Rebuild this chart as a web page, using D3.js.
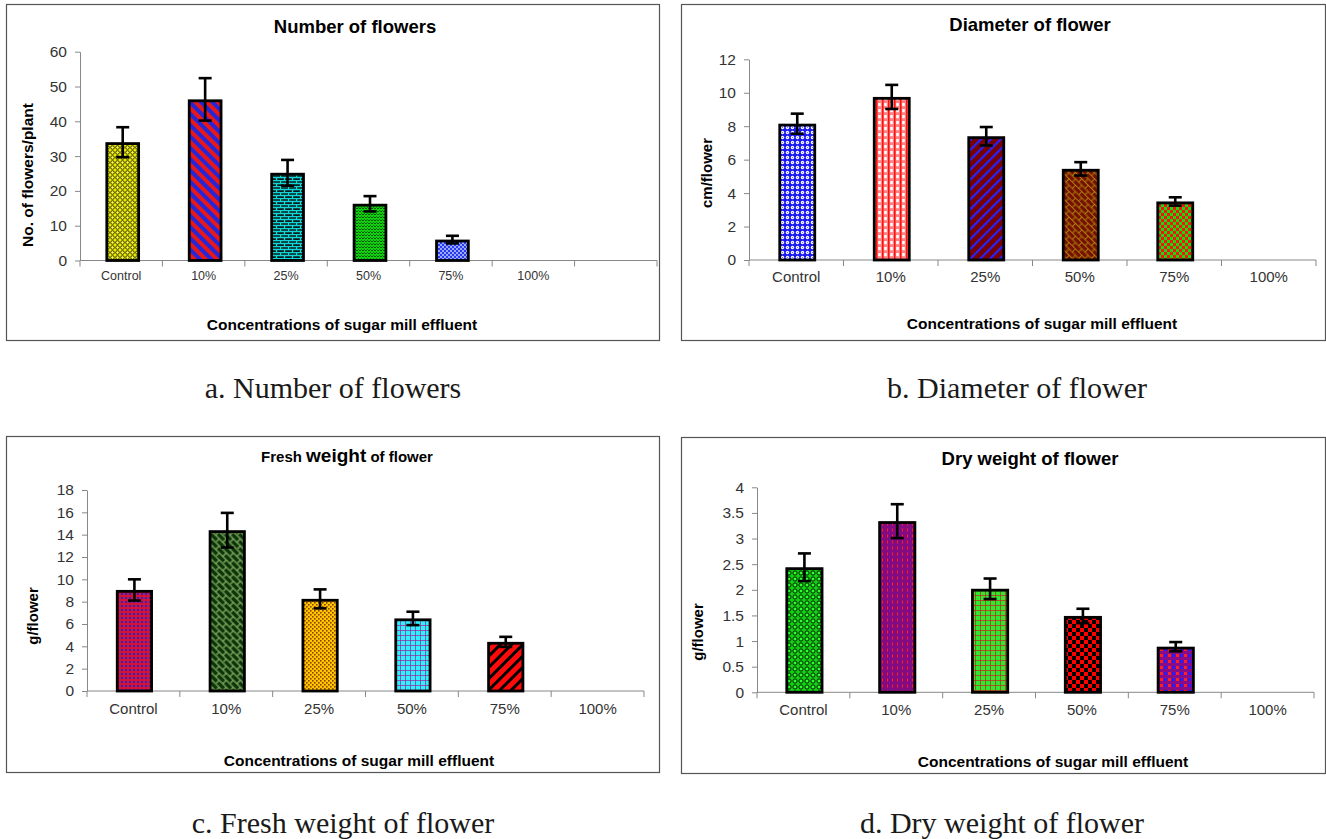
<!DOCTYPE html>
<html><head><meta charset="utf-8">
<script src="https://cdn.jsdelivr.net/npm/d3@7"></script>
<style>
html,body{margin:0;padding:0;background:#fff;}
svg{display:block;font-family:"Liberation Sans",Arial,sans-serif;}
</style></head><body>
<svg id="c" width="1326" height="839"></svg>
<script>
// ---------- data ----------
const categories = ["Control", "10%", "25%", "50%", "75%", "100%"];

const flowerCount    = [34.0, 46.3, 25.2, 16.3, 6.0, 0];
const flowerCountErr = [4.3, 6.1, 3.7, 2.2, 1.1, 0];
const flowerCountTicks = [0, 10, 20, 30, 40, 50, 60];

const diameter    = [8.15, 9.75, 7.4, 5.45, 3.5, 0];
const diameterErr = [0.6, 0.72, 0.55, 0.4, 0.25, 0];
const diameterTicks = [0, 2, 4, 6, 8, 10, 12];

const freshWeight    = [9.05, 14.4, 8.25, 6.5, 4.4, 0];
const freshWeightErr = [0.95, 1.55, 0.85, 0.6, 0.45, 0];
const freshWeightTicks = [0, 2, 4, 6, 8, 10, 12, 14, 16, 18];

const dryWeight    = [2.44, 3.34, 2.02, 1.49, 0.89, 0];
const dryWeightErr = [0.27, 0.33, 0.2, 0.14, 0.09, 0];
const dryWeightTicks = [0, 0.5, 1, 1.5, 2, 2.5, 3, 3.5, 4];

const titles = ["Number of flowers", "Diameter of flower", "Fresh weight of flower", "Dry weight of flower"];
const yTitles = ["No. of flowers/plant", "cm/flower", "g/flower", "g/flower"];
const xTitle = "Concentrations of sugar mill effluent";
const captions = ["a. Number of flowers", "b. Diameter of flower", "c. Fresh weight of flower", "d. Dry weight of flower"];

// ---------- patterns ----------
const svg = d3.select("#c");
const defs = svg.append("defs");
function pat(id, w, h, bg, draw, transform) {
  const p = defs.append("pattern").attr("id", id)
    .attr("patternUnits", "userSpaceOnUse").attr("width", w).attr("height", h);
  if (transform) p.attr("patternTransform", transform);
  p.append("rect").attr("width", w).attr("height", h).attr("fill", bg);
  draw(p);
}
// panel a
pat("pA0", 5, 5, "#e8e800", p => {
  p.append("circle").attr("cx", 2.5).attr("cy", 2.5).attr("r", 1.8).attr("fill", "#ffff40").attr("stroke", "#222200").attr("stroke-width", 0.9);
});
pat("pA1", 8, 8, "#2626d8", p => {
  p.append("rect").attr("width", 4).attr("height", 8).attr("fill", "#e81818");
}, "rotate(-45)");
pat("pA2", 8, 6, "#0a1a1a", p => {
  p.append("path").attr("d", "M0,0.5H8M0,3.5H8M0.5,0.5V3.5M4.5,3.5V6.5")
    .attr("stroke", "#10d8d8").attr("stroke-width", 1.3).attr("fill", "none");
});
pat("pA3", 6, 6, "#10d010", p => {
  p.append("path").attr("d", "M0,2L1.5,0.5L3,2L4.5,0.5L6,2M0,5L1.5,3.5L3,5L4.5,3.5L6,5")
    .attr("stroke", "#045004").attr("stroke-width", 0.9).attr("fill", "none");
});
pat("pA4", 4, 4, "#2a3cf0", p => {
  p.append("rect").attr("width", 2).attr("height", 2).attr("fill", "#9aa8ff");
  p.append("rect").attr("x", 2).attr("y", 2).attr("width", 2).attr("height", 2).attr("fill", "#9aa8ff");
});
// panel b
pat("pB0", 5, 5, "#1c1cf0", p => {
  p.append("circle").attr("cx", 2.5).attr("cy", 2.5).attr("r", 1.7).attr("fill", "#ffffff");
  p.append("circle").attr("cx", 2.5).attr("cy", 2.5).attr("r", 0.6).attr("fill", "#6060ff");
});
pat("pB1", 6, 6, "#ff8080", p => {
  p.append("rect").attr("x", 0).attr("y", 0).attr("width", 1.5).attr("height", 6).attr("fill", "#ff1010");
  p.append("rect").attr("x", 2.2).attr("y", 1).attr("width", 2.6).attr("height", 3.2).attr("fill", "#ffffff");
});
pat("pB2", 7, 7, "#780000", p => {
  p.append("rect").attr("width", 2.2).attr("height", 7).attr("fill", "#2424ff");
}, "rotate(45)");
pat("pB3", 9, 9, "#761000", p => {
  p.append("path").attr("d", "M0,0.5H9M0,5H9M0.5,0.5V5M5,5V9")
    .attr("stroke", "#b89a10").attr("stroke-width", 0.8).attr("fill", "none");
}, "rotate(45)");
pat("pB4", 6, 6, "#10e010", p => {
  p.append("rect").attr("width", 3).attr("height", 3).attr("fill", "#ff1010");
  p.append("rect").attr("x", 3).attr("y", 3).attr("width", 3).attr("height", 3).attr("fill", "#ff1010");
});
// panel c
pat("pC0", 4, 4, "#e0102a", p => {
  p.append("circle").attr("cx", 2).attr("cy", 2).attr("r", 1.2).attr("fill", "#2424d0");
});
pat("pC1", 10, 10, "#0a360a", p => {
  p.append("path").attr("d", "M0,1H10M0,6H10M1,1V6M6,6V10")
    .attr("stroke", "#a8c878").attr("stroke-width", 1).attr("fill", "none");
}, "rotate(45)");
pat("pC2", 4, 4, "#ffc800", p => {
  p.append("rect").attr("width", 1.6).attr("height", 1.6).attr("fill", "#904000");
  p.append("rect").attr("x", 2).attr("y", 2).attr("width", 1.6).attr("height", 1.6).attr("fill", "#904000");
});
pat("pC3", 5, 5, "#30f0ff", p => {
  p.append("path").attr("d", "M0,0.5H5M0.5,0V5").attr("stroke", "#a02090").attr("stroke-width", 0.7).attr("fill", "none");
});
pat("pC4", 8, 8, "#ff0a0a", p => {
  p.append("rect").attr("width", 3).attr("height", 8).attr("fill", "#000");
}, "rotate(45)");
// panel d
pat("pD0", 6, 6, "#10d010", p => {
  p.append("circle").attr("cx", 3).attr("cy", 3).attr("r", 2.1).attr("fill", "#30ff30").attr("stroke", "#001800").attr("stroke-width", 1);
});
pat("pD1", 5, 6, "#820a82", p => {
  p.append("rect").attr("x", 2).attr("y", 0.5).attr("width", 1).attr("height", 3).attr("fill", "#ff2020");
});
pat("pD2", 5, 5, "#30e830", p => {
  p.append("path").attr("d", "M0,0.5H5M0.5,0V5").attr("stroke", "#c82020").attr("stroke-width", 0.7).attr("fill", "none");
});
pat("pD3", 8, 8, "#ff0000", p => {
  p.append("rect").attr("width", 4).attr("height", 4).attr("fill", "#000");
  p.append("rect").attr("x", 4).attr("y", 4).attr("width", 4).attr("height", 4).attr("fill", "#000");
});
pat("pD4", 8, 6, "#880c88", p => {
  p.append("rect").attr("x", 0).attr("y", 0).attr("width", 3).attr("height", 3).attr("fill", "#ff2020");
  p.append("rect").attr("x", 4).attr("y", 0).attr("width", 3).attr("height", 3).attr("fill", "#2020ff");
});

// ---------- layout (positions only) ----------
const panels = [
  { vals: flowerCount, errs: flowerCountErr, ticks: flowerCountTicks, fills: ["pA0","pA1","pA2","pA3","pA4","pA0"],
    frame: [6, 4, 653, 336], ax0: 80, ax1: 657, nb: 7, y0: 260.5, y1: 51.7, barFrac: 0.42, barShift: 1.5,
    title: [355, 33], titleSize: 18.5, yt: [27, 175], ytSize: 15.5, xt: [342, 330], xlabY: 280, xlabSize: 12.5, cap: [333, 398] },
  { vals: diameter, errs: diameterErr, ticks: diameterTicks, fills: ["pB0","pB1","pB2","pB3","pB4","pB0"],
    frame: [681, 4, 644, 336], ax0: 749, ax1: 1316, nb: 6, y0: 260, y1: 59.3, barFrac: 0.40, barShift: 1,
    title: [1030, 31], titleSize: 18.5, yt: [706, 173], ytSize: 15, xt: [1042, 329], xlabY: 282, xlabSize: 15, cap: [1017, 398] },
  { vals: freshWeight, errs: freshWeightErr, ticks: freshWeightTicks, fills: ["pC0","pC1","pC2","pC3","pC4","pC0"],
    frame: [6, 436, 653, 336], ax0: 87, ax1: 644, nb: 6, y0: 691, y1: 490, barFrac: 0.40, barShift: 1,
    title: [347, 462], titleSize: 15, yt: [32, 616], ytSize: 15, xt: [359, 766], xlabY: 714, xlabSize: 15, cap: [343, 833] },
  { vals: dryWeight, errs: dryWeightErr, ticks: dryWeightTicks, fills: ["pD0","pD1","pD2","pD3","pD4","pD0"],
    frame: [681, 437, 644, 336], ax0: 757, ax1: 1314, nb: 6, y0: 692.3, y1: 487.3, barFrac: 0.41, barShift: 1,
    title: [1030, 465], titleSize: 18.5, yt: [697, 632], ytSize: 15, xt: [1053, 767], xlabY: 715, xlabSize: 15, cap: [1002, 833] }
];

panels.forEach((P, pi) => {
  const g = svg.append("g");
  g.append("rect").attr("x", P.frame[0] + 0.5).attr("y", P.frame[1] + 0.5)
    .attr("width", P.frame[2]).attr("height", P.frame[3])
    .attr("fill", "#fff").attr("stroke", "#555").attr("stroke-width", 1.2);

  const y = d3.scaleLinear().domain([0, d3.max(P.ticks)]).range([P.y0, P.y1]);
  const x = d3.scaleBand().domain(d3.range(P.nb)).range([P.ax0, P.ax1]).padding(0);
  const step = x.step();

  const ya = g.append("g").attr("transform", `translate(${P.ax0},0)`)
    .call(d3.axisLeft(y).tickValues(P.ticks).tickSize(5).tickSizeOuter(0).tickPadding(8).tickFormat(d3.format("")));
  ya.select(".domain").attr("stroke", "#888");
  ya.selectAll(".tick line").attr("stroke", "#888");
  ya.selectAll(".tick text").attr("font-size", 15.5).attr("fill", "#333")
    .attr("font-family", '"Liberation Sans",Arial,sans-serif');

  g.append("line").attr("x1", P.ax0).attr("x2", P.ax1).attr("y1", P.y0).attr("y2", P.y0)
    .attr("stroke", "#888").attr("stroke-width", 1);
  const bounds = d3.range(P.nb).map(i => x(i)).concat([P.ax1]);
  g.selectAll("line.xt").data(bounds).join("line").attr("class", "xt")
    .attr("x1", d => d).attr("x2", d => d).attr("y1", P.y0).attr("y2", P.y0 + 6)
    .attr("stroke", "#888");
  g.selectAll("text.xl").data(categories).join("text").attr("class", "xl")
    .attr("x", (d, i) => x(i) + step / 2).attr("y", P.xlabY)
    .attr("text-anchor", "middle").attr("font-size", P.xlabSize).attr("fill", "#333").text(d => d);

  const data = categories.map((c, i) => ({ i, v: P.vals[i], e: P.errs[i], fill: P.fills[i] })).filter(d => d.v > 0);
  const bw = step * P.barFrac;
  const sw = 2.8;
  g.selectAll("rect.bar").data(data).join("rect").attr("class", "bar")
    .attr("x", d => x(d.i) + step / 2 - bw / 2 + P.barShift + sw / 2)
    .attr("y", d => y(d.v) + sw / 2)
    .attr("width", bw - sw)
    .attr("height", d => y(0) - y(d.v) - sw / 2)
    .attr("fill", d => `url(#${d.fill})`)
    .attr("stroke", "#000").attr("stroke-width", sw);

  const cw = 6.5;
  const eg = g.selectAll("g.err").data(data).join("g").attr("class", "err")
    .attr("stroke", "#000").attr("stroke-width", 2.6);
  eg.append("line")
    .attr("x1", d => x(d.i) + step / 2 + P.barShift).attr("x2", d => x(d.i) + step / 2 + P.barShift)
    .attr("y1", d => y(d.v + d.e)).attr("y2", d => y(d.v - d.e));
  eg.append("line")
    .attr("x1", d => x(d.i) + step / 2 + P.barShift - cw).attr("x2", d => x(d.i) + step / 2 + P.barShift + cw)
    .attr("y1", d => y(d.v + d.e)).attr("y2", d => y(d.v + d.e));
  eg.append("line")
    .attr("x1", d => x(d.i) + step / 2 + P.barShift - cw).attr("x2", d => x(d.i) + step / 2 + P.barShift + cw)
    .attr("y1", d => y(d.v - d.e)).attr("y2", d => y(d.v - d.e));

  const t = g.append("text").attr("x", P.title[0]).attr("y", P.title[1])
    .attr("text-anchor", "middle").attr("font-weight", "bold").attr("font-size", P.titleSize).attr("fill", "#000");
  if (pi === 2) {
    const parts = titles[pi].split(" ");
    t.append("tspan").text(parts[0] + " ");
    t.append("tspan").attr("font-size", 19).text(parts[1]);
    t.append("tspan").text(" " + parts.slice(2).join(" "));
  } else {
    t.text(titles[pi]);
  }
  g.append("text").attr("transform", `translate(${P.yt[0]},${P.yt[1]}) rotate(-90)`)
    .attr("text-anchor", "middle").attr("dominant-baseline", "central")
    .attr("font-weight", "bold").attr("font-size", P.ytSize).attr("fill", "#000").text(yTitles[pi]);
  g.append("text").attr("x", P.xt[0]).attr("y", P.xt[1]).attr("text-anchor", "middle")
    .attr("font-weight", "bold").attr("font-size", 15.5).attr("fill", "#000").text(xTitle);
  svg.append("text").attr("x", P.cap[0]).attr("y", P.cap[1]).attr("text-anchor", "middle")
    .attr("font-family", '"Liberation Serif","Times New Roman",serif').attr("font-size", 30)
    .attr("fill", "#1a1a1a").text(captions[pi]);
});
</script>
</body></html>
